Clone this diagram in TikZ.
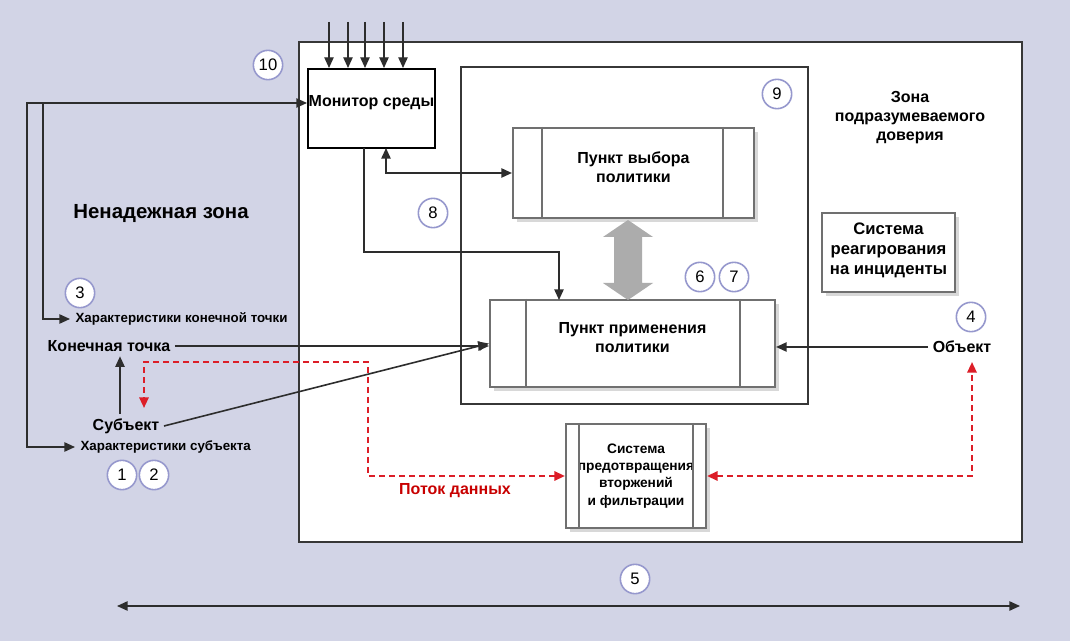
\documentclass[tikz,border=0pt]{standalone}
\usepackage{fontspec}
\setmainfont{Liberation Sans}
\usetikzlibrary{arrows.meta,fit,shadows}

\definecolor{bgzone}{RGB}{210,212,230}
\definecolor{zoneline}{RGB}{55,55,55}
\definecolor{boxgray}{RGB}{112,112,112}
\definecolor{linecol}{RGB}{45,45,45}
\definecolor{circcol}{RGB}{150,152,205}
\definecolor{flowred}{RGB}{220,30,40}
\definecolor{flowtxt}{RGB}{200,0,0}
\definecolor{arrgray}{RGB}{172,172,172}

\newcommand\lblfont{\bfseries\fontsize{12}{14.25}\selectfont}
\newcommand\zonebigfont{\bfseries\fontsize{15.3}{18}\selectfont}
\newcommand\chrfont{\bfseries\fontsize{10}{12}\selectfont}
\newcommand\ipsfont{\bfseries\fontsize{10.3}{13}\selectfont}
\newcommand\irsfont{\bfseries\fontsize{12.5}{15}\selectfont}
\newcommand\numfont{\fontsize{12.5}{12.5}\selectfont}

\begin{document}
\begin{tikzpicture}[x=0.75pt,y=0.75pt,yscale=-1,
  arr/.style={draw=linecol,line width=1.2pt,-{Triangle[length=8pt,width=7pt]}},
  arrboth/.style={draw=linecol,line width=1.2pt,{Triangle[length=8pt,width=7pt]}-{Triangle[length=8pt,width=7pt]}},
  redflow/.style={draw=flowred,line width=1.6pt,dash pattern=on 4.5pt off 3pt,{Triangle[length=8pt,width=7pt]}-{Triangle[length=8pt,width=7pt]}},
  pbox/.style={draw=boxgray,line width=1.6pt,fill=white,inner sep=0pt,align=center,font=\lblfont,
    drop shadow={shadow xshift=3pt,shadow yshift=-3pt,opacity=0.3}},
  barline/.style={draw=boxgray,line width=1.1pt},
  numc/.style={circle,draw=circcol,fill=white,line width=1.2pt,minimum size=22pt,inner sep=0pt,font=\numfont}]
\useasboundingbox (0,0) rectangle (1070,641);

%Shape: Rectangle
\fill[bgzone] (0,0) rectangle (1070,641);
%Shape: Rectangle
\draw[zoneline,line width=2pt,fill=white] (299,42) rectangle (1022,542);
%Shape: Rectangle
\draw[zoneline,line width=1.6pt] (461,67) rectangle (808,404);

%Shape: Boxes
\node[draw=black,line width=1.5pt,fill=white,inner sep=0pt,align=center,font=\lblfont,fit={(308,69) (435,148)}] (mon) {Монитор среды\\[-4pt]};
\node[pbox,fit={(513,128) (754,218)}] (pdp) {Пункт выбора\\политики};
\node[pbox,fit={(490,300) (775,387)}] (pep) {Пункт применения\\политики};
\node[pbox,font=\ipsfont,fit={(566,424) (706,528)}] (ips) {\\[-6pt]Система\\предотвращения\\вторжений\\и фильтрации};
\node[pbox,font=\irsfont,fit={(822,213) (955,292)}] (irs) {\\[-9pt]Система\\реагирования\\на инциденты};

%Straight Lines
\draw[barline] (542,0 |- pdp.north) -- (542,0 |- pdp.south);
\draw[barline] (723,0 |- pdp.north) -- (723,0 |- pdp.south);
\draw[barline] (526,0 |- pep.north) -- (526,0 |- pep.south);
\draw[barline] (740,0 |- pep.north) -- (740,0 |- pep.south);
\draw[barline] (579,0 |- ips.north) -- (579,0 |- ips.south);
\draw[barline] (693,0 |- ips.north) -- (693,0 |- ips.south);

%Shape: Up Down Arrow
\fill[arrgray] (628,220) -- (653,237) -- (642,237) -- (642,283) -- (653,283) -- (628,300) -- (603,283) -- (614,283) -- (614,237) -- (603,237) -- cycle;

% Text Node
\node[font=\zonebigfont] (untr) at (161,214) {Ненадежная зона};
% Text Node
\node[font=\lblfont,align=center] (trz) at (910,118) {Зона\\подразумеваемого\\доверия};
% Text Node
\node[font=\chrfont,anchor=west,inner sep=4pt] (chend) at (70,319) {Характеристики конечной точки};
% Text Node
\node[font=\chrfont,anchor=west,inner sep=4pt] (chsub) at (75,447) {Характеристики субъекта};
% Text Node
\node[font=\lblfont] (endp) at (109,346) {Конечная точка};
% Text Node
\node[font=\lblfont] (sub) at (126,426) {Субъект};
% Text Node
\node[font=\lblfont] (obj) at (962,347) {Объект};
% Text Node
\node[font=\lblfont,text=flowtxt] (flow) at (455,491) {Поток данных};

%Numbers
\node[numc] (n10) at (268,65) {10};
\node[numc] (n9) at (777,94) {9};
\node[numc] (n8) at (433,213) {8};
\node[numc] (n6) at (700,277) {6};
\node[numc] (n7) at (734,277) {7};
\node[numc] (n3) at (80,293) {3};
\node[numc] (n4) at (971,317) {4};
\node[numc] (n1) at (122,475) {1};
\node[numc] (n2) at (154,475) {2};
\node[numc] (n5) at (635,579) {5};

%Straight Lines
\foreach \x in {329,348,365,384,403}
  \draw[arr,line width=1pt] (\x,22) -- (\x,0 |- mon.north);

\coordinate (fbA) at (27,103);
\coordinate (fbB) at (43,103);
\draw[arrboth] (chsub.west) -| (fbA) -- (fbA -| mon.west);
\draw[arr] (fbB) |- (chend.west);

\coordinate (monA) at (386,148);
\coordinate (monB) at (364,148);
\coordinate (pepA) at (559,300);
\draw[arrboth] (monA) |- (pdp.west);
\draw[arr] (monB) |- (559,252) -- (pepA);

\draw[arr] (endp.east) -- (endp.east -| pep.west);
\draw[arr] (sub.east) -- (pep.west);
\draw[arr] ([xshift=-4.5pt]sub.north) -- ([xshift=-4.5pt]sub.north |- endp.south);
\draw[arr] (obj.west) -- (obj.west -| pep.east);

%Data flow
\coordinate (subin) at (144,408);
\coordinate (objin) at (972,362);
\draw[redflow] (ips.west) -| (368,362) -| (subin);
\draw[redflow] (ips.east) -| (objin);

%Span
\coordinate (spanL) at (117,606);
\coordinate (spanR) at (1020,606);
\draw[arrboth] (spanL) -- (spanR);

\end{tikzpicture}
\end{document}
